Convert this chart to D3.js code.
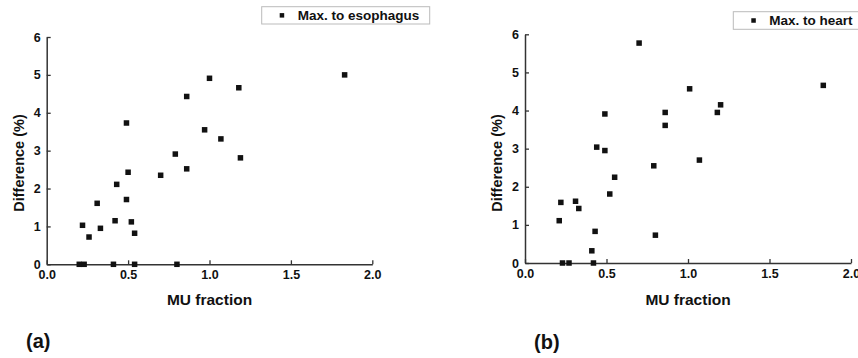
<!DOCTYPE html>
<html><head><meta charset="utf-8">
<script src="https://cdn.jsdelivr.net/npm/d3@7"></script>
<style>body{margin:0;background:#fff}svg{display:block}text{font-family:Arial,"Liberation Sans",sans-serif;font-weight:bold;fill:#111}</style>
</head><body><svg id="c" width="858" height="358"></svg>
<script>
// Data
const xTicks = [0.0, 0.5, 1.0, 1.5, 2.0];
const yTicks = [0, 1, 2, 3, 4, 5, 6];
const esoX = [0.20,0.23,0.41,0.54,0.80,0.22,0.26,0.33,0.31,0.42,0.43,0.49,0.49,0.50,0.52,0.54,0.70,0.79,0.86,0.86,0.97,1.00,1.07,1.18,1.19,1.83];
const esoY = [0,0,0,0,0,1.03,0.72,0.95,1.61,1.15,2.11,1.71,3.73,2.43,1.12,0.82,2.35,2.91,2.52,4.43,3.55,4.91,3.31,4.66,2.81,5.00];
const heartX = [0.23,0.27,0.42,0.21,0.22,0.31,0.33,0.41,0.43,0.44,0.49,0.49,0.52,0.55,0.70,0.79,0.80,0.86,0.86,1.01,1.07,1.18,1.20,1.83];
const heartY = [0,0,0,1.11,1.59,1.62,1.43,0.32,0.83,3.04,3.91,2.95,1.81,2.25,5.77,2.55,0.73,3.95,3.61,4.57,2.70,3.95,4.15,4.66];
const panels = [
  {xs: esoX, ys: esoY, name: "Max. to esophagus", tag: "(a)",
   xr: [46.7, 372.3], yr: [264.3, 37], ylx: 19, legend: {x: 261.7, y: 6.7, w: 168, h: 17.3}, tagX: 26, tagY: 348},
  {xs: heartX, ys: heartY, name: "Max. to heart", tag: "(b)",
   xr: [525, 851], yr: [263, 34.3], ylx: 497, legend: {x: 733.3, y: 11.7, w: 126, h: 17.6}, tagX: 534, tagY: 349}
];
const svg = d3.select("#c");
panels.forEach(p => {
  const x = d3.scaleLinear().domain([0, 2]).range(p.xr);
  const y = d3.scaleLinear().domain([0, 6]).range(p.yr);
  const g = svg.append("g");
  const xa = g.append("g").attr("transform", `translate(0,${p.yr[0]})`)
    .call(d3.axisBottom(x).tickValues(xTicks).tickFormat(d3.format(".1f")).tickSizeInner(-4).tickSizeOuter(0).tickPadding(4));
  const ya = g.append("g").attr("transform", `translate(${p.xr[0]},0)`)
    .call(d3.axisLeft(y).tickValues(yTicks).tickFormat(d3.format("d")).tickSizeInner(-4).tickSizeOuter(0).tickPadding(6));
  [xa, ya].forEach(a => {
    a.select(".domain").attr("stroke", "#333").attr("stroke-width", 1.5);
    a.selectAll(".tick line").attr("stroke", "#333").attr("stroke-width", 1.3);
    a.selectAll("text").attr("font-size", 12.5).attr("font-family", "Arial,'Liberation Sans',sans-serif").attr("font-weight", "bold").attr("fill", "#111");
  });
  xa.selectAll("text").attr("dy", "0.85em");
  g.append("text").attr("x", (p.xr[0] + p.xr[1]) / 2).attr("y", 305).attr("text-anchor", "middle")
    .attr("font-size", 15.5).text("MU fraction");
  g.append("text").attr("transform", `translate(${p.ylx + 5},163) rotate(-90)`).attr("text-anchor", "middle")
    .attr("font-size", 14.5).text("Difference (%)");
  g.selectAll("rect.pt").data(p.xs.map((v, i) => [v, p.ys[i]])).enter().append("rect")
    .attr("class", "pt").attr("x", d => x(d[0]) - 2.75).attr("y", d => y(d[1]) - 2.75)
    .attr("width", 5.5).attr("height", 5.5).attr("fill", "#111");
  const L = p.legend;
  g.append("rect").attr("x", L.x).attr("y", L.y).attr("width", L.w).attr("height", L.h)
    .attr("fill", "#fff").attr("stroke", "#bbb").attr("stroke-width", 1);
  g.append("rect").attr("x", L.x + 18).attr("y", L.y + L.h / 2 - 2.25).attr("width", 4.5).attr("height", 4.5).attr("fill", "#111");
  g.append("text").attr("x", L.x + 36).attr("y", L.y + L.h / 2 + 4.7).attr("font-size", 13.5).text(p.name);
  g.append("text").attr("x", p.tagX).attr("y", p.tagY).attr("font-size", 20).text(p.tag);
});
</script></body></html>
